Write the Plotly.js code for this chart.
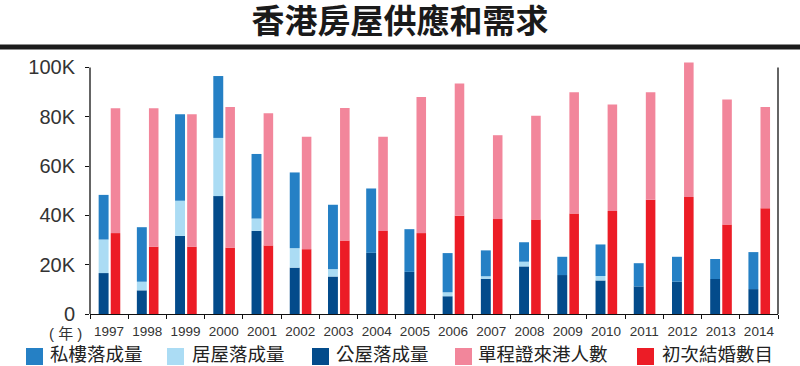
<!DOCTYPE html>
<html>
<head>
<meta charset="utf-8">
<script src="https://cdn.plot.ly/plotly-3.0.1.min.js"></script>
<style>html,body{margin:0;padding:0;background:#fff;}#chart{width:800px;height:366px;}</style>
</head>
<body>
<div id="chart"></div>
<script>
// ---- data ----
const years = ['1997','1998','1999','2000','2001','2002','2003','2004','2005','2006','2007','2008','2009','2010','2011','2012','2013','2014'];
const privateCompletions = [18100, 22100, 35100, 25100, 26200, 30700, 26100, 26100, 17300, 15900, 10500, 7900, 7400, 12800, 9400, 10100, 8100, 15000];
const hosCompletions     = [13600, 3500, 14200, 23600, 5000, 7900, 3000, 0, 0, 1600, 1000, 1900, 0, 1800, 0, 0, 0, 0];
const publicCompletions  = [16600, 9600, 31700, 47800, 33700, 18800, 15200, 24800, 17100, 7200, 14300, 19300, 15800, 13600, 11200, 13100, 14200, 10100];
const oneWayArrivals     = [50600, 56100, 53700, 57000, 53600, 45600, 53700, 38200, 55200, 53700, 34000, 42100, 49100, 43200, 43600, 54600, 50700, 41000];
const firstMarriages     = [32800, 27300, 27300, 26900, 27800, 26300, 29800, 33700, 32800, 39800, 38500, 38300, 40800, 41800, 46300, 47400, 36300, 42900];
const yTickVals = [0, 20000, 40000, 60000, 80000, 100000];
const yTickText = ['0', '20K', '40K', '60K', '80K', '100K'];
const seriesNames = ['私樓落成量', '居屋落成量', '公屋落成量', '單程證來港人數', '初次結婚數目'];
const titleText = '香港房屋供應和需求';
const yearUnit = '( 年 )';

// ---- styling ----
const colors = ['#2580c5', '#abdcf4', '#034b8b', '#f2869b', '#ec1c26'];
const W = 800, H = 366;
const M = {l: 90, r: 22, t: 60, b: 52};
const PW = W - M.l - M.r, PH = H - M.t - M.b;
const px = x => (x - M.l) / PW;
const py = y => (H - M.b - y) / PH;
const cjk = 'Liberation Sans, Noto Sans CJK TC, sans-serif';

const blueOff = -0.274, blueW = 0.26;
const redOff = 0.042, redW = 0.25;

const hosBase = publicCompletions.slice();
const privBase = publicCompletions.map((v, i) => v + hosCompletions[i]);

const traces = [
  {type: 'bar', name: seriesNames[2], x: years, y: publicCompletions, base: 0, offset: blueOff, width: blueW, marker: {color: colors[2]}},
  {type: 'bar', name: seriesNames[1], x: years, y: hosCompletions, base: hosBase, offset: blueOff, width: blueW, marker: {color: colors[1]}},
  {type: 'bar', name: seriesNames[0], x: years, y: privateCompletions, base: privBase, offset: blueOff, width: blueW, marker: {color: colors[0]}},
  {type: 'bar', name: seriesNames[4], x: years, y: firstMarriages, base: 0, offset: redOff, width: redW, marker: {color: colors[4]}},
  {type: 'bar', name: seriesNames[3], x: years, y: oneWayArrivals, base: firstMarriages, offset: redOff, width: redW, marker: {color: colors[3]}}
];

// custom legend
const legendItems = [
  {sq: 26, tx: 48, c: colors[0], t: seriesNames[0]},
  {sq: 167, tx: 190, c: colors[1], t: seriesNames[1]},
  {sq: 312, tx: 334, c: colors[2], t: seriesNames[2]},
  {sq: 455, tx: 476, c: colors[3], t: seriesNames[3]},
  {sq: 637, tx: 660, c: colors[4], t: seriesNames[4]}
];
const shapes = [
  {type: 'line', xref: 'paper', yref: 'paper', x0: px(0), x1: px(800), y0: py(47), y1: py(47), line: {color: '#1c1c1c', width: 5}},
  {type: 'line', xref: 'paper', yref: 'y', x0: 0, x1: 0, y0: 0, y1: 100000, line: {color: '#111', width: 1.3}},
  {type: 'line', xref: 'paper', yref: 'y', x0: 1, x1: 1, y0: 0, y1: 100000, line: {color: '#111', width: 1.3}}
];
const annotations = [
  {xref: 'paper', yref: 'paper', x: px(65), y: py(333), xanchor: 'center', yanchor: 'middle', showarrow: false,
   text: yearUnit, font: {family: cjk, size: 15, color: '#333'}}
];
legendItems.forEach(it => {
  shapes.push({type: 'rect', xref: 'paper', yref: 'paper', x0: px(it.sq), x1: px(it.sq + 17), y0: py(365), y1: py(348), fillcolor: it.c, line: {width: 0}});
  annotations.push({xref: 'paper', yref: 'paper', x: px(it.tx), y: py(354.5), xanchor: 'left', yanchor: 'middle', showarrow: false,
    text: it.t, font: {family: cjk, size: 18.5, color: '#222'}});
});

const layout = {
  width: W, height: H,
  margin: M,
  paper_bgcolor: '#fff', plot_bgcolor: '#fff',
  barmode: 'overlay',
  showlegend: false,
  title: {text: titleText, x: 0.5, xref: 'container', xanchor: 'center', y: 1 - 21 / H, yref: 'container', yanchor: 'middle',
    font: {family: cjk, size: 33, weight: 'bold', color: '#1a1a1a'}},
  xaxis: {
    type: 'category', range: [-0.5, 17.5], showline: true, linecolor: '#111', linewidth: 1.3,
    ticks: 'outside', tickson: 'boundaries', ticklen: 4, tickcolor: '#111', tickwidth: 1,
    tickangle: 0, ticklabelstandoff: 4,
    tickfont: {family: 'Liberation Sans, Arial, sans-serif', size: 13.5, color: '#333'},
    showgrid: false, zeroline: false, fixedrange: true
  },
  yaxis: {
    range: [0, 103000], showline: false, showgrid: false, zeroline: false,
    ticks: 'outside', ticklen: 4, tickcolor: '#111', tickwidth: 1,
    tickvals: yTickVals, ticktext: yTickText, ticklabelstandoff: 6,
    tickfont: {family: 'Liberation Sans, Arial, sans-serif', size: 20, color: '#333'}
  },
  shapes: shapes,
  annotations: annotations
};

Plotly.newPlot('chart', traces, layout, {displayModeBar: false, staticPlot: true});
</script>
</body>
</html>
